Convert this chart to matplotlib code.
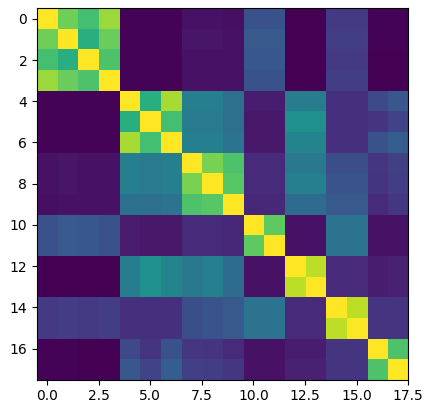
import numpy as np
import matplotlib
matplotlib.use("Agg")
import matplotlib.pyplot as plt

# similarity matrix (18 x 18, symmetric)
row0 = [1.00, 0.78, 0.70, 0.85, 0.01, 0.01, 0.01, 0.05, 0.05, 0.04, 0.25, 0.25, 0.00, 0.00, 0.17, 0.17, 0.01, 0.01]
row1 = [0.78, 1.00, 0.63, 0.77, 0.01, 0.01, 0.01, 0.06, 0.06, 0.05, 0.28, 0.28, 0.00, 0.00, 0.18, 0.18, 0.01, 0.01]
row2 = [0.70, 0.63, 1.00, 0.72, 0.01, 0.01, 0.01, 0.05, 0.05, 0.05, 0.27, 0.27, 0.00, 0.00, 0.17, 0.17, 0.00, 0.00]
row3 = [0.85, 0.77, 0.72, 1.00, 0.01, 0.01, 0.01, 0.05, 0.05, 0.05, 0.25, 0.25, 0.00, 0.00, 0.18, 0.18, 0.00, 0.00]
row4 = [0.01, 0.01, 0.01, 0.01, 1.00, 0.63, 0.87, 0.43, 0.43, 0.37, 0.08, 0.08, 0.42, 0.42, 0.14, 0.14, 0.22, 0.27]
row5 = [0.01, 0.01, 0.01, 0.01, 0.63, 1.00, 0.70, 0.41, 0.41, 0.37, 0.07, 0.07, 0.50, 0.50, 0.14, 0.14, 0.15, 0.20]
row6 = [0.01, 0.01, 0.01, 0.01, 0.87, 0.70, 1.00, 0.43, 0.43, 0.38, 0.07, 0.07, 0.45, 0.45, 0.14, 0.14, 0.25, 0.30]
row7 = [0.05, 0.06, 0.05, 0.05, 0.43, 0.41, 0.43, 1.00, 0.80, 0.72, 0.12, 0.12, 0.40, 0.40, 0.24, 0.24, 0.16, 0.19]
row8 = [0.05, 0.06, 0.05, 0.05, 0.43, 0.41, 0.43, 0.80, 1.00, 0.74, 0.12, 0.12, 0.43, 0.43, 0.26, 0.26, 0.15, 0.18]
row9 = [0.04, 0.05, 0.05, 0.05, 0.37, 0.37, 0.38, 0.72, 0.74, 1.00, 0.11, 0.11, 0.35, 0.35, 0.28, 0.28, 0.12, 0.16]
row10 = [0.25, 0.28, 0.27, 0.25, 0.08, 0.07, 0.07, 0.12, 0.12, 0.11, 1.00, 0.75, 0.05, 0.05, 0.38, 0.38, 0.05, 0.05]
row11 = [0.25, 0.28, 0.27, 0.25, 0.08, 0.07, 0.07, 0.12, 0.12, 0.11, 0.75, 1.00, 0.05, 0.05, 0.38, 0.38, 0.05, 0.05]
row12 = [0.00, 0.00, 0.00, 0.00, 0.42, 0.50, 0.45, 0.40, 0.43, 0.35, 0.05, 0.05, 1.00, 0.90, 0.12, 0.12, 0.08, 0.09]
row13 = [0.00, 0.00, 0.00, 0.00, 0.42, 0.50, 0.45, 0.40, 0.43, 0.35, 0.05, 0.05, 0.90, 1.00, 0.12, 0.12, 0.08, 0.09]
row14 = [0.17, 0.18, 0.17, 0.18, 0.14, 0.14, 0.14, 0.24, 0.26, 0.28, 0.38, 0.38, 0.12, 0.12, 1.00, 0.90, 0.15, 0.15]
row15 = [0.17, 0.18, 0.17, 0.18, 0.14, 0.14, 0.14, 0.24, 0.26, 0.28, 0.38, 0.38, 0.12, 0.12, 0.90, 1.00, 0.15, 0.15]
row16 = [0.01, 0.01, 0.00, 0.00, 0.22, 0.15, 0.25, 0.16, 0.15, 0.12, 0.05, 0.05, 0.08, 0.08, 0.15, 0.15, 1.00, 0.72]
row17 = [0.01, 0.01, 0.00, 0.00, 0.27, 0.20, 0.30, 0.19, 0.18, 0.16, 0.05, 0.05, 0.09, 0.09, 0.15, 0.15, 0.72, 1.00]

mat = np.array([row0, row1, row2, row3, row4, row5, row6, row7, row8, row9,
                row10, row11, row12, row13, row14, row15, row16, row17])

fig = plt.figure(figsize=(4.32, 4.13), dpi=100)
ax = fig.add_axes([0.0856, 0.0799, 0.859, 0.9007])
ax.imshow(mat, cmap='viridis')

fig.savefig('out.png', dpi=100)
